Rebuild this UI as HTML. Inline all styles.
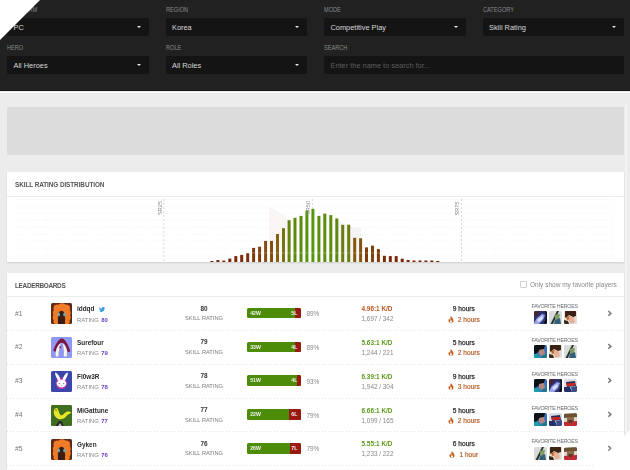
<!DOCTYPE html>
<html><head><meta charset="utf-8"><style>
*{margin:0;padding:0;box-sizing:border-box}
html,body{width:630px;height:470px;overflow:hidden;background:#ececec;font-family:"Liberation Sans",sans-serif}
.abs{position:absolute}
#hdr{position:absolute;left:0;top:0;width:630px;height:90.6px;background:#212121;border-bottom:1px solid #141414}
#hl{position:absolute;left:0;top:91.6px;width:630px;height:1.3px;background:#fbfbfb}
.lbl{position:absolute;font-size:6.6px;color:#8a8a8a;letter-spacing:0px;transform:scaleX(0.85);transform-origin:0 0;line-height:7px}
.box{position:absolute;height:17.8px;background:#141414;color:#d8d8d8;font-size:7.4px;line-height:19.6px;padding-left:6.5px;border-radius:1.5px}
.box .arr{position:absolute;right:8px;top:7.6px;width:0;height:0;border-left:2.6px solid transparent;border-right:2.6px solid transparent;border-top:2.8px solid #e8e8e8}
.box.ph{color:#5e5e5e;font-size:7.4px;line-height:19.2px}
#banner{position:absolute;left:7.2px;top:107.3px;width:617px;height:47.8px;background:#dcdcdc}
.card{position:absolute;left:7px;width:617px;background:#fff;box-shadow:0 1px 1.5px rgba(0,0,0,0.12)}
.ctitle{position:absolute;left:8px;font-size:6.4px;font-weight:bold;color:#555;letter-spacing:-0.3px}
.cdiv{position:absolute;left:0;width:617px;height:1px;background:#ededed}
.row{position:absolute;left:7px;width:617px;height:33.85px}
.row div{position:absolute;white-space:nowrap}
.rank{left:8px;top:14.5px;font-size:6.8px;color:#777;line-height:6px}
.av{left:43.6px;top:7.3px;width:21px;height:21px}
.av svg{display:block}
.name{left:70px;top:9.2px;font-size:6.4px;font-weight:bold;color:#2a2a2a;line-height:7px}
.tw{position:relative;left:4.8px;top:0.9px}
.rat{left:70px;top:21.5px;font-size:5.95px;color:#8a8a8a;line-height:5px}
.rat b{color:#6a3fc8;margin-left:0.5px}
.sr{left:167px;width:60px;text-align:center;top:9.5px;font-size:6.4px;font-weight:bold;color:#333;line-height:5px}
.srl{left:167px;width:60px;text-align:center;top:20px;font-size:5.7px;color:#7a7a7a;line-height:5px}
.wl{left:240px;top:11.8px;width:54px;height:10.7px;background:#4c8c08;border-radius:1.5px;overflow:hidden}
.wl .lpart{position:absolute;right:0;top:0;height:10.7px;background:#9a1a12}
.wl span{position:absolute;top:2.9px;font-size:5.2px;font-weight:bold;color:#f4f4f4;line-height:5px}
.ww{left:3.2px}
.ll{right:3.7px}
.pct{left:299.5px;top:15px;font-size:6.4px;color:#8a8a8a;line-height:5px}
.kd{left:354.5px;top:10px;font-size:6.4px;font-weight:bold;line-height:5px}
.kills{left:354.5px;top:20px;font-size:6.4px;color:#888;line-height:5px}
.hrs{left:426.8px;width:60px;text-align:center;top:10px;font-size:6.6px;font-weight:normal;color:#2e2e2e;-webkit-text-stroke:0.25px #2e2e2e;line-height:5px}
.hot{left:426.8px;width:60px;text-align:center;top:19.5px;font-size:6.6px;color:#b4561c;line-height:7px;font-weight:normal;-webkit-text-stroke:0.15px #b4561c}
.hot svg{vertical-align:top;margin-right:4px}
.fav{left:524.5px;top:8px;font-size:5.3px;color:#6a6a6a;line-height:5px;letter-spacing:-0.22px}
.heroes{left:527px;top:15.2px;height:13px;display:flex;gap:2px}
.heroes svg{display:block}
.chev{left:599.8px;top:13.5px}
.chev svg{display:block}
.sep{left:0;top:33.85px;width:617px;height:1px;background-image:linear-gradient(to right,#e4e4e4 50%,transparent 50%);background-size:3px 1px}
</style></head><body><div id="wrap" style="position:absolute;left:0;top:0;width:630px;height:470px;overflow:hidden;filter:blur(0.3px)">
<div id="hdr">
 <div class="lbl" style="left:7px;top:6px">PLATFORM</div>
 <div class="lbl" style="left:165.5px;top:6px">REGION</div>
 <div class="lbl" style="left:324px;top:6px">MODE</div>
 <div class="lbl" style="left:482.5px;top:6px">CATEGORY</div>
 <div class="box" style="left:7px;top:18.3px;width:141.5px">PC<div class="arr"></div></div>
 <div class="box" style="left:165.5px;top:18.3px;width:141.5px">Korea<div class="arr"></div></div>
 <div class="box" style="left:324px;top:18.3px;width:141.5px">Competitive Play<div class="arr"></div></div>
 <div class="box" style="left:482.5px;top:18.3px;width:141.5px">Skill Rating<div class="arr"></div></div>
 <div class="lbl" style="left:7px;top:44px">HERO</div>
 <div class="lbl" style="left:165.5px;top:44px">ROLE</div>
 <div class="lbl" style="left:324px;top:44px">SEARCH</div>
 <div class="box" style="left:7px;top:56.4px;width:141.5px">All Heroes<div class="arr"></div></div>
 <div class="box" style="left:165.5px;top:56.4px;width:141.5px">All Roles<div class="arr"></div></div>
 <div class="box ph" style="left:324px;top:56.4px;width:300px">Enter the name to search for...</div>
</div>
<div id="hl"></div>
<div id="banner"></div>
<div class="abs" style="left:624.8px;top:104px;width:2.5px;height:330px;background:#f3f3f3"></div>
<div class="card" style="top:172px;height:90px">
 <div class="ctitle" style="top:9px;letter-spacing:-0.08px">SKILL RATING DISTRIBUTION</div>
 <div class="cdiv" style="top:24px"></div>
</div>
<svg class="abs" style="left:0;top:0" width="630" height="470" viewBox="0 0 630 470">
<line x1="17" y1="199.5" x2="614" y2="199.5" stroke="#ececec" stroke-width="0.6" stroke-dasharray="1 1.5"/>
<line x1="17" y1="206.4" x2="614" y2="206.4" stroke="#ececec" stroke-width="0.6" stroke-dasharray="1 1.5"/>
<line x1="17" y1="213.4" x2="614" y2="213.4" stroke="#ececec" stroke-width="0.6" stroke-dasharray="1 1.5"/>
<line x1="17" y1="220.3" x2="614" y2="220.3" stroke="#ececec" stroke-width="0.6" stroke-dasharray="1 1.5"/>
<line x1="17" y1="227.3" x2="614" y2="227.3" stroke="#ececec" stroke-width="0.6" stroke-dasharray="1 1.5"/>
<line x1="17" y1="234.2" x2="614" y2="234.2" stroke="#ececec" stroke-width="0.6" stroke-dasharray="1 1.5"/>
<line x1="17" y1="241.2" x2="614" y2="241.2" stroke="#ececec" stroke-width="0.6" stroke-dasharray="1 1.5"/>
<line x1="17" y1="248.2" x2="614" y2="248.2" stroke="#ececec" stroke-width="0.6" stroke-dasharray="1 1.5"/>
<line x1="17" y1="255.1" x2="614" y2="255.1" stroke="#ececec" stroke-width="0.6" stroke-dasharray="1 1.5"/>
<line x1="17.0" y1="198" x2="17.0" y2="262" stroke="#f6f6f6" stroke-width="0.5" stroke-dasharray="1 1.5"/>
<line x1="46.8" y1="198" x2="46.8" y2="262" stroke="#f6f6f6" stroke-width="0.5" stroke-dasharray="1 1.5"/>
<line x1="76.6" y1="198" x2="76.6" y2="262" stroke="#f6f6f6" stroke-width="0.5" stroke-dasharray="1 1.5"/>
<line x1="106.4" y1="198" x2="106.4" y2="262" stroke="#f6f6f6" stroke-width="0.5" stroke-dasharray="1 1.5"/>
<line x1="136.2" y1="198" x2="136.2" y2="262" stroke="#f6f6f6" stroke-width="0.5" stroke-dasharray="1 1.5"/>
<line x1="166.0" y1="198" x2="166.0" y2="262" stroke="#f6f6f6" stroke-width="0.5" stroke-dasharray="1 1.5"/>
<line x1="195.8" y1="198" x2="195.8" y2="262" stroke="#f6f6f6" stroke-width="0.5" stroke-dasharray="1 1.5"/>
<line x1="225.6" y1="198" x2="225.6" y2="262" stroke="#f6f6f6" stroke-width="0.5" stroke-dasharray="1 1.5"/>
<line x1="255.4" y1="198" x2="255.4" y2="262" stroke="#f6f6f6" stroke-width="0.5" stroke-dasharray="1 1.5"/>
<line x1="285.2" y1="198" x2="285.2" y2="262" stroke="#f6f6f6" stroke-width="0.5" stroke-dasharray="1 1.5"/>
<line x1="315.0" y1="198" x2="315.0" y2="262" stroke="#f6f6f6" stroke-width="0.5" stroke-dasharray="1 1.5"/>
<line x1="344.8" y1="198" x2="344.8" y2="262" stroke="#f6f6f6" stroke-width="0.5" stroke-dasharray="1 1.5"/>
<line x1="374.6" y1="198" x2="374.6" y2="262" stroke="#f6f6f6" stroke-width="0.5" stroke-dasharray="1 1.5"/>
<line x1="404.4" y1="198" x2="404.4" y2="262" stroke="#f6f6f6" stroke-width="0.5" stroke-dasharray="1 1.5"/>
<line x1="434.2" y1="198" x2="434.2" y2="262" stroke="#f6f6f6" stroke-width="0.5" stroke-dasharray="1 1.5"/>
<line x1="464.0" y1="198" x2="464.0" y2="262" stroke="#f6f6f6" stroke-width="0.5" stroke-dasharray="1 1.5"/>
<line x1="493.8" y1="198" x2="493.8" y2="262" stroke="#f6f6f6" stroke-width="0.5" stroke-dasharray="1 1.5"/>
<line x1="523.6" y1="198" x2="523.6" y2="262" stroke="#f6f6f6" stroke-width="0.5" stroke-dasharray="1 1.5"/>
<line x1="553.4" y1="198" x2="553.4" y2="262" stroke="#f6f6f6" stroke-width="0.5" stroke-dasharray="1 1.5"/>
<line x1="583.2" y1="198" x2="583.2" y2="262" stroke="#f6f6f6" stroke-width="0.5" stroke-dasharray="1 1.5"/>
<line x1="613.0" y1="198" x2="613.0" y2="262" stroke="#f6f6f6" stroke-width="0.5" stroke-dasharray="1 1.5"/>
<path d="M269 206 L290 219 L290 262 L269 262 Z" fill="#f5eeec" opacity="0.55"/>
<path d="M336 220 L352 227.5 L361 227.5 L361 262 L336 262 Z" fill="#f0f0f0" opacity="0.7"/>
<line x1="163.8" y1="199" x2="163.8" y2="262" stroke="#cfcfcf" stroke-width="0.8" stroke-dasharray="2 2"/>
<line x1="312.6" y1="199" x2="312.6" y2="262" stroke="#cfcfcf" stroke-width="0.8" stroke-dasharray="2 2"/>
<line x1="461.5" y1="199" x2="461.5" y2="262" stroke="#cfcfcf" stroke-width="0.8" stroke-dasharray="2 2"/>
<rect x="210.4" y="261.0" width="3" height="1.0" fill="rgb(122, 30, 8)"/>
<rect x="216.4" y="260.1" width="3" height="1.9" fill="rgb(123, 32, 8)"/>
<rect x="222.3" y="260.6" width="3" height="1.4" fill="rgb(123, 31, 8)"/>
<rect x="228.3" y="258.6" width="3" height="3.4" fill="rgb(124, 36, 9)"/>
<rect x="234.3" y="256.1" width="3" height="5.9" fill="rgb(125, 41, 9)"/>
<rect x="240.2" y="254.9" width="3" height="7.1" fill="rgb(125, 44, 10)"/>
<rect x="246.2" y="253.1" width="3" height="8.9" fill="rgb(126, 48, 10)"/>
<rect x="252.1" y="247.9" width="3" height="14.1" fill="rgb(128, 59, 11)"/>
<rect x="258.1" y="246.7" width="3" height="15.3" fill="rgb(129, 62, 11)"/>
<rect x="264.1" y="240.9" width="3" height="21.1" fill="rgb(131, 77, 13)"/>
<rect x="270.0" y="240.9" width="3" height="21.1" fill="rgb(131, 77, 13)"/>
<rect x="276.0" y="234.0" width="3" height="28.0" fill="rgb(132, 96, 15)"/>
<rect x="282.0" y="228.2" width="3" height="33.8" fill="rgb(119, 113, 15)"/>
<rect x="287.6" y="220.2" width="3" height="41.8" fill="rgb(98, 132, 14)"/>
<rect x="293.5" y="217.8" width="3" height="44.2" fill="rgb(94, 136, 14)"/>
<rect x="299.5" y="215.9" width="3" height="46.1" fill="rgb(91, 140, 14)"/>
<rect x="305.4" y="210.6" width="3" height="51.4" fill="rgb(86, 148, 12)"/>
<rect x="311.4" y="208.9" width="3" height="53.1" fill="rgb(84, 150, 12)"/>
<rect x="317.4" y="215.9" width="3" height="46.1" fill="rgb(91, 140, 14)"/>
<rect x="323.3" y="213.6" width="3" height="48.4" fill="rgb(89, 143, 13)"/>
<rect x="329.3" y="215.1" width="3" height="46.9" fill="rgb(90, 141, 14)"/>
<rect x="335.3" y="218.4" width="3" height="43.6" fill="rgb(95, 135, 14)"/>
<rect x="341.2" y="224.8" width="3" height="37.2" fill="rgb(108, 122, 14)"/>
<rect x="347.2" y="224.7" width="3" height="37.3" fill="rgb(107, 123, 14)"/>
<rect x="353.2" y="237.8" width="3" height="24.2" fill="rgb(131, 86, 14)"/>
<rect x="359.1" y="238.3" width="3" height="23.7" fill="rgb(131, 84, 14)"/>
<rect x="365.0" y="247.4" width="3" height="14.6" fill="rgb(128, 60, 11)"/>
<rect x="371.0" y="245.6" width="3" height="16.4" fill="rgb(129, 64, 12)"/>
<rect x="376.9" y="249.1" width="3" height="12.9" fill="rgb(128, 57, 11)"/>
<rect x="382.9" y="255.8" width="3" height="6.2" fill="rgb(125, 42, 9)"/>
<rect x="388.8" y="256.1" width="3" height="5.9" fill="rgb(125, 41, 9)"/>
<rect x="394.7" y="256.1" width="3" height="5.9" fill="rgb(125, 41, 9)"/>
<rect x="400.7" y="258.7" width="3" height="3.3" fill="rgb(123, 35, 9)"/>
<rect x="406.6" y="260.0" width="3" height="2.0" fill="rgb(123, 32, 8)"/>
<rect x="412.5" y="260.5" width="3" height="1.5" fill="rgb(123, 31, 8)"/>
<rect x="418.5" y="260.5" width="3" height="1.5" fill="rgb(123, 31, 8)"/>
<rect x="424.4" y="260.5" width="3" height="1.5" fill="rgb(123, 31, 8)"/>
<rect x="430.3" y="260.5" width="3" height="1.5" fill="rgb(123, 31, 8)"/>
<rect x="436.3" y="261.0" width="3" height="1.0" fill="rgb(122, 30, 8)"/>
<line x1="205" y1="253" x2="445" y2="253" stroke="#fff" stroke-opacity="0.35" stroke-width="0.8"/>
<text transform="translate(161.5 215) rotate(-90)" font-family="Liberation Sans" font-size="5.6" fill="#888">SR25</text>
<text transform="translate(310.3 215) rotate(-90)" font-family="Liberation Sans" font-size="5.6" fill="#888">SR50</text>
<text transform="translate(459.2 215.5) rotate(-90)" font-family="Liberation Sans" font-size="5.6" fill="#888">SR75</text>
</svg>
<div class="card" style="top:272.5px;height:210px">
 <div class="ctitle" style="top:9px">LEADERBOARDS</div>
 <div class="abs" style="left:512.5px;top:8.4px;width:7px;height:7px;border:0.8px solid #cfcfcf;border-radius:1px"></div>
 <div class="abs" style="left:523px;top:9.5px;font-size:6.5px;color:#8a8a8a;line-height:6px;white-space:nowrap">Only show my favorite players</div>
 <div class="cdiv" style="top:23.5px"></div>
</div>
<div class="row" style="top:296.00px">
 <div class="rank">#1</div>
 <div class="av"><svg width="21" height="21" viewBox="0 0 21 21"><rect width="21" height="21" rx="1.5" fill="#5a2c18"/>
<g fill="#f27b28"><circle cx="6.5" cy="5.5" r="4"/><circle cx="11" cy="4" r="3.8"/><circle cx="15" cy="5.5" r="4"/><circle cx="5" cy="10" r="3.2"/><circle cx="16.5" cy="10" r="3.2"/>
<circle cx="4.6" cy="14.5" r="2.9"/><circle cx="16.8" cy="14.5" r="2.9"/><circle cx="5" cy="18.5" r="2.6"/><circle cx="16.2" cy="18.6" r="2.6"/><circle cx="8.5" cy="8" r="3"/><circle cx="12.8" cy="8" r="3"/>
<rect x="5" y="10" width="11" height="11"/></g>
<path d="M7 21 C7 17 6.6 13 7.3 10.5 C8 8.8 9.3 7.8 10.5 7.8 C11.7 7.8 13 8.8 13.7 10.5 C14.4 13 14 17 14 21 Z" fill="#3b1c10"/>
<ellipse cx="7.9" cy="11.6" rx="1.1" ry="2" fill="#5ab0c8"/><ellipse cx="13.4" cy="11.6" rx="1.1" ry="2" fill="#5ab0c8"/></svg></div>
 <div class="name">iddqd<svg class="tw" width="6.2" height="5.2" viewBox="0 0 24 20"><path d="M24 2.4c-.9.4-1.8.6-2.8.8 1-.6 1.8-1.6 2.2-2.7-1 .6-2 1-3.1 1.2C19.3.6 18 0 16.6 0c-2.7 0-4.9 2.2-4.9 4.9 0 .4 0 .8.1 1.1C7.7 5.8 4.1 3.9 1.7.9c-.4.7-.7 1.6-.7 2.5 0 1.7.9 3.2 2.2 4.1-.8 0-1.6-.2-2.2-.6v.1c0 2.4 1.7 4.4 3.9 4.8-.4.1-.8.2-1.3.2-.3 0-.6 0-.9-.1.6 2 2.4 3.4 4.6 3.4-1.7 1.3-3.8 2.1-6.1 2.1-.4 0-.8 0-1.2-.1C2.2 18.7 4.8 19.5 7.5 19.5c9.1 0 14-7.5 14-14v-.6c1-.7 1.8-1.6 2.5-2.5z" fill="#3aa0e4"/></svg></div>
 <div class="rat">RATING <b>80</b></div>
 <div class="sr">80</div>
 <div class="srl">SKILL RATING</div>
 <div class="wl"><div class="lpart" style="width:5.7px"></div><span class="ww">42W</span><span class="ll">5L</span></div>
 <div class="pct">89%</div>
 <div class="kd" style="color:#c0581e">4.96:1 K/D</div>
 <div class="kills">1,697 / 342</div>
 <div class="hrs">9 hours</div>
 <div class="hot"><svg width="6" height="7" viewBox="0 0 12 14"><path d="M6 0 C7 3 11 5 11 9 C11 12 9 14 6 14 C3 14 1 12 1 9 C1 7 2 6 3 5 C3 7 4 8 5 8 C4 5 5 2 6 0 Z" fill="#c85a1a"/><path d="M6 7 C7 9 8 10 8 11.5 C8 12.8 7 13.5 6 13.5 C5 13.5 4 12.8 4 11.5 C4 10.5 5 9 6 7Z" fill="#fff"/></svg><span>2 hours</span></div>
 <div class="fav">FAVORITE HEROES</div>
 <div class="heroes"><svg width="13" height="13" viewBox="0 0 13 13"><defs><clipPath id="hc1"><rect width="13" height="13" rx="1.6"/></clipPath></defs><g clip-path="url(#hc1)"><rect width="13" height="13" fill="#2c3272"/><path d="M0 0 H6 L3 5 L0 6Z" fill="#4a2434"/><path d="M0 12 L3 7 L8 3 L11 4 L9 9 L5 13 L0 13Z" fill="#98a4ec"/><path d="M3 9 L8 5 L9 7 L5 11Z" fill="#dfe4fb"/><path d="M11 0 H13 V13 H10 L12 6Z" fill="#10101c"/></g></svg><svg width="13" height="13" viewBox="0 0 13 13"><defs><clipPath id="hc2"><rect width="13" height="13" rx="1.6"/></clipPath></defs><g clip-path="url(#hc2)"><rect width="13" height="13" fill="#d8dbd8"/><path d="M8 0 L10 0 L4 13 L1.5 13Z" fill="#2e3630"/><path d="M6 4 L11 3 L10 8 L6 9Z" fill="#7c9c62"/><path d="M6 9 L11 7 L12 13 L5 13Z" fill="#35607c"/></g></svg><svg width="13" height="13" viewBox="0 0 13 13"><defs><clipPath id="hc3"><rect width="13" height="13" rx="1.6"/></clipPath></defs><g clip-path="url(#hc3)"><rect width="13" height="13" fill="#e6ded6"/><path d="M1 0 H12 V5 L9 6 L5 4 L2 7 L1 6Z" fill="#3a2214"/><path d="M2 6 L6 5 L7 8 L3 9Z" fill="#c46824"/><path d="M5 6 L10 6 L11 11 L7 13 L5 10Z" fill="#e6b09a"/><path d="M0 9 L4 10 L5 13 H0Z" fill="#3a2a18"/></g></svg></div>
 <div class="chev"><svg width="6" height="7" viewBox="0 0 6 7"><path d="M1.3 1 L3.9 3.4 L1.3 5.8" stroke="#7a7a7a" stroke-width="1.5" fill="none"/></svg></div>
 <div class="sep"></div>
</div>
<div class="row" style="top:329.85px">
 <div class="rank">#2</div>
 <div class="av"><svg width="21" height="21" viewBox="0 0 21 21"><rect width="21" height="21" rx="1.5" fill="#8e97f2"/>
<path d="M2.3 13.8 C3.8 8.5 7.5 1.4 10.8 1.4 C14 1.4 17.8 8.5 19.2 14.2 C18.5 15.2 17.2 15 16.6 14.4 C15.5 10 13.5 5.8 10.8 5.8 C8 5.8 6.2 10 5.2 14 C4.5 14.8 3 14.8 2.3 13.8 Z" fill="#7c1444"/>
<path d="M4.8 19.5 C4.3 14.5 5.5 9 9.8 6 C8.5 10 7.6 14.5 7.4 19.5 Z" fill="#f6f4e4"/>
<path d="M15.8 19.5 C16.5 14.5 15.5 9 11.6 6 C12.6 10 13.2 14.5 12.8 19.5 Z" fill="#f6f4e4"/>
<circle cx="9.2" cy="10.2" r="1" fill="#b82050"/></svg></div>
 <div class="name">Surefour</div>
 <div class="rat">RATING <b>79</b></div>
 <div class="sr">79</div>
 <div class="srl">SKILL RATING</div>
 <div class="wl"><div class="lpart" style="width:5.8px"></div><span class="ww">33W</span><span class="ll">4L</span></div>
 <div class="pct">89%</div>
 <div class="kd" style="color:#5c9a1c">5.63:1 K/D</div>
 <div class="kills">1,244 / 221</div>
 <div class="hrs">5 hours</div>
 <div class="hot"><svg width="6" height="7" viewBox="0 0 12 14"><path d="M6 0 C7 3 11 5 11 9 C11 12 9 14 6 14 C3 14 1 12 1 9 C1 7 2 6 3 5 C3 7 4 8 5 8 C4 5 5 2 6 0 Z" fill="#c85a1a"/><path d="M6 7 C7 9 8 10 8 11.5 C8 12.8 7 13.5 6 13.5 C5 13.5 4 12.8 4 11.5 C4 10.5 5 9 6 7Z" fill="#fff"/></svg><span>2 hours</span></div>
 <div class="fav">FAVORITE HEROES</div>
 <div class="heroes"><svg width="13" height="13" viewBox="0 0 13 13"><defs><clipPath id="hc4"><rect width="13" height="13" rx="1.6"/></clipPath></defs><g clip-path="url(#hc4)"><rect width="13" height="13" fill="#3a70b8"/><path d="M0 0 H11 L10 4 L6 5 L3 8 L0 9Z" fill="#0e1216"/><path d="M5 5 L10 4 L11 9 L7 11 L5 9Z" fill="#b6867a"/><path d="M0 9 L4 9 L7 13 H0Z" fill="#1c9cac"/><path d="M9 10 L13 9 V13 H8Z" fill="#1a7a8a"/></g></svg><svg width="13" height="13" viewBox="0 0 13 13"><defs><clipPath id="hc5"><rect width="13" height="13" rx="1.6"/></clipPath></defs><g clip-path="url(#hc5)"><rect width="13" height="13" fill="#e6ded6"/><path d="M1 0 H12 V5 L9 6 L5 4 L2 7 L1 6Z" fill="#3a2214"/><path d="M2 6 L6 5 L7 8 L3 9Z" fill="#c46824"/><path d="M5 6 L10 6 L11 11 L7 13 L5 10Z" fill="#e6b09a"/><path d="M0 9 L4 10 L5 13 H0Z" fill="#3a2a18"/></g></svg><svg width="13" height="13" viewBox="0 0 13 13"><defs><clipPath id="hc6"><rect width="13" height="13" rx="1.6"/></clipPath></defs><g clip-path="url(#hc6)"><rect width="13" height="13" fill="#d8dbd8"/><path d="M8 0 L10 0 L4 13 L1.5 13Z" fill="#2e3630"/><path d="M6 4 L11 3 L10 8 L6 9Z" fill="#7c9c62"/><path d="M6 9 L11 7 L12 13 L5 13Z" fill="#35607c"/></g></svg></div>
 <div class="chev"><svg width="6" height="7" viewBox="0 0 6 7"><path d="M1.3 1 L3.9 3.4 L1.3 5.8" stroke="#7a7a7a" stroke-width="1.5" fill="none"/></svg></div>
 <div class="sep"></div>
</div>
<div class="row" style="top:363.70px">
 <div class="rank">#3</div>
 <div class="av"><svg width="21" height="21" viewBox="0 0 21 21"><rect width="21" height="21" rx="1.5" fill="#3b46aa"/>
<ellipse cx="10.4" cy="12.3" rx="5.6" ry="5.8" fill="#c23ab6"/>
<path d="M4.2 1.6 C6.2 1.8 8.8 5.5 9.4 9 L7.4 9.8 C5.6 7.5 3.8 3.8 4.2 1.6Z" fill="#fff"/>
<path d="M16.8 1.6 C14.8 1.8 12.2 5.5 11.6 9 L13.6 9.8 C15.4 7.5 17.2 3.8 16.8 1.6Z" fill="#fff"/>
<ellipse cx="10.5" cy="12.6" rx="4.7" ry="3.9" fill="#fff"/>
<path d="M7.5 11.8 L9.3 12.4 L8 13.3Z" fill="#6a68a8"/><path d="M13.5 11.8 L11.7 12.4 L13 13.3Z" fill="#6a68a8"/>
<path d="M9.8 14.3 L11.2 14.3 L10.5 15.2Z" fill="#8a70b0"/></svg></div>
 <div class="name">Fl0w3R</div>
 <div class="rat">RATING <b>78</b></div>
 <div class="sr">78</div>
 <div class="srl">SKILL RATING</div>
 <div class="wl"><div class="lpart" style="width:3.9px"></div><span class="ww">51W</span><span class="ll">4L</span></div>
 <div class="pct">93%</div>
 <div class="kd" style="color:#5c9a1c">6.39:1 K/D</div>
 <div class="kills">1,942 / 304</div>
 <div class="hrs">9 hours</div>
 <div class="hot"><svg width="6" height="7" viewBox="0 0 12 14"><path d="M6 0 C7 3 11 5 11 9 C11 12 9 14 6 14 C3 14 1 12 1 9 C1 7 2 6 3 5 C3 7 4 8 5 8 C4 5 5 2 6 0 Z" fill="#c85a1a"/><path d="M6 7 C7 9 8 10 8 11.5 C8 12.8 7 13.5 6 13.5 C5 13.5 4 12.8 4 11.5 C4 10.5 5 9 6 7Z" fill="#fff"/></svg><span>3 hours</span></div>
 <div class="fav">FAVORITE HEROES</div>
 <div class="heroes"><svg width="13" height="13" viewBox="0 0 13 13"><defs><clipPath id="hc7"><rect width="13" height="13" rx="1.6"/></clipPath></defs><g clip-path="url(#hc7)"><rect width="13" height="13" fill="#3a70b8"/><path d="M0 0 H11 L10 4 L6 5 L3 8 L0 9Z" fill="#0e1216"/><path d="M5 5 L10 4 L11 9 L7 11 L5 9Z" fill="#b6867a"/><path d="M0 9 L4 9 L7 13 H0Z" fill="#1c9cac"/><path d="M9 10 L13 9 V13 H8Z" fill="#1a7a8a"/></g></svg><svg width="13" height="13" viewBox="0 0 13 13"><defs><clipPath id="hc8"><rect width="13" height="13" rx="1.6"/></clipPath></defs><g clip-path="url(#hc8)"><rect width="13" height="13" fill="#2c3272"/><path d="M0 0 H6 L3 5 L0 6Z" fill="#4a2434"/><path d="M0 12 L3 7 L8 3 L11 4 L9 9 L5 13 L0 13Z" fill="#98a4ec"/><path d="M3 9 L8 5 L9 7 L5 11Z" fill="#dfe4fb"/><path d="M11 0 H13 V13 H10 L12 6Z" fill="#10101c"/></g></svg><svg width="13" height="13" viewBox="0 0 13 13"><defs><clipPath id="hc9"><rect width="13" height="13" rx="1.6"/></clipPath></defs><g clip-path="url(#hc9)"><rect width="13" height="13" fill="#dcdce4"/><path d="M2 3 L11 2 L12 7 L3 8Z" fill="#2a3050"/><path d="M2 4.5 L11 4 L11 6.5 L3 7Z" fill="#d42424"/><path d="M0 8 L6 8 L8 13 H0Z" fill="#24306a"/><path d="M7 8 L13 7 V13 H8Z" fill="#3a4c8a"/></g></svg></div>
 <div class="chev"><svg width="6" height="7" viewBox="0 0 6 7"><path d="M1.3 1 L3.9 3.4 L1.3 5.8" stroke="#7a7a7a" stroke-width="1.5" fill="none"/></svg></div>
 <div class="sep"></div>
</div>
<div class="row" style="top:397.55px">
 <div class="rank">#4</div>
 <div class="av"><svg width="21" height="21" viewBox="0 0 21 21"><rect width="21" height="21" rx="1.5" fill="#3c6a1e"/>
<path d="M0 0 H21 V21 H0Z" fill="#4a7c26" opacity="0.3"/>
<path d="M2.8 6 C3 3.8 4.8 2.6 6.5 3.2 C7.5 5 7.8 8 9.5 10 C11.5 11 13 8.5 15 7 C17 6.3 19 6.5 20.3 7.5 C19 9 16.5 9.5 15 11.5 C13.5 13.5 11.5 14.5 8.5 14.2 C5.5 13.5 3.5 11 3 9 C2.6 8 2.7 7 2.8 6 Z" fill="#e8e428"/>
<path d="M3.4 9 C4.5 11.5 6.5 13 9 13.6 C6.5 14 4.2 12 3.4 9Z" fill="#f4f4c0"/>
<circle cx="5" cy="5.2" r="0.6" fill="#2a2a10"/>
<path d="M4.5 21 L8 15.8 L11 16.5 L12.5 21 Z" fill="#262626"/><path d="M7 21 L9 18 L11 21Z" fill="#b8b8b8"/></svg></div>
 <div class="name">MiGattune</div>
 <div class="rat">RATING <b>77</b></div>
 <div class="sr">77</div>
 <div class="srl">SKILL RATING</div>
 <div class="wl"><div class="lpart" style="width:11.6px"></div><span class="ww">22W</span><span class="ll">6L</span></div>
 <div class="pct">79%</div>
 <div class="kd" style="color:#5c9a1c">6.66:1 K/D</div>
 <div class="kills">1,099 / 165</div>
 <div class="hrs">5 hours</div>
 <div class="hot"><svg width="6" height="7" viewBox="0 0 12 14"><path d="M6 0 C7 3 11 5 11 9 C11 12 9 14 6 14 C3 14 1 12 1 9 C1 7 2 6 3 5 C3 7 4 8 5 8 C4 5 5 2 6 0 Z" fill="#c85a1a"/><path d="M6 7 C7 9 8 10 8 11.5 C8 12.8 7 13.5 6 13.5 C5 13.5 4 12.8 4 11.5 C4 10.5 5 9 6 7Z" fill="#fff"/></svg><span>2 hours</span></div>
 <div class="fav">FAVORITE HEROES</div>
 <div class="heroes"><svg width="13" height="13" viewBox="0 0 13 13"><defs><clipPath id="hc10"><rect width="13" height="13" rx="1.6"/></clipPath></defs><g clip-path="url(#hc10)"><rect width="13" height="13" fill="#3a70b8"/><path d="M0 0 H11 L10 4 L6 5 L3 8 L0 9Z" fill="#0e1216"/><path d="M5 5 L10 4 L11 9 L7 11 L5 9Z" fill="#b6867a"/><path d="M0 9 L4 9 L7 13 H0Z" fill="#1c9cac"/><path d="M9 10 L13 9 V13 H8Z" fill="#1a7a8a"/></g></svg><svg width="13" height="13" viewBox="0 0 13 13"><defs><clipPath id="hc11"><rect width="13" height="13" rx="1.6"/></clipPath></defs><g clip-path="url(#hc11)"><rect width="13" height="13" fill="#dcdce4"/><path d="M2 3 L11 2 L12 7 L3 8Z" fill="#2a3050"/><path d="M2 4.5 L11 4 L11 6.5 L3 7Z" fill="#d42424"/><path d="M0 8 L6 8 L8 13 H0Z" fill="#24306a"/><path d="M7 8 L13 7 V13 H8Z" fill="#3a4c8a"/></g></svg><svg width="13" height="13" viewBox="0 0 13 13"><defs><clipPath id="hc12"><rect width="13" height="13" rx="1.6"/></clipPath></defs><g clip-path="url(#hc12)"><rect width="13" height="13" fill="#dcd8d0"/><path d="M0 1 L13 0 V4 L0 5Z" fill="#6a5232"/><path d="M3 4 L10 4 L10 9 L3 9Z" fill="#8e6a4a"/><path d="M0 9 L13 8 V13 H0Z" fill="#c02a32"/><path d="M4 7 L9 7 L8 10 L5 10Z" fill="#5a3a24"/></g></svg></div>
 <div class="chev"><svg width="6" height="7" viewBox="0 0 6 7"><path d="M1.3 1 L3.9 3.4 L1.3 5.8" stroke="#7a7a7a" stroke-width="1.5" fill="none"/></svg></div>
 <div class="sep"></div>
</div>
<div class="row" style="top:431.40px">
 <div class="rank">#5</div>
 <div class="av"><svg width="21" height="21" viewBox="0 0 21 21"><rect width="21" height="21" rx="1.5" fill="#5a2c18"/>
<g fill="#f27b28"><circle cx="6.5" cy="5.5" r="4"/><circle cx="11" cy="4" r="3.8"/><circle cx="15" cy="5.5" r="4"/><circle cx="5" cy="10" r="3.2"/><circle cx="16.5" cy="10" r="3.2"/>
<circle cx="4.6" cy="14.5" r="2.9"/><circle cx="16.8" cy="14.5" r="2.9"/><circle cx="5" cy="18.5" r="2.6"/><circle cx="16.2" cy="18.6" r="2.6"/><circle cx="8.5" cy="8" r="3"/><circle cx="12.8" cy="8" r="3"/>
<rect x="5" y="10" width="11" height="11"/></g>
<path d="M7 21 C7 17 6.6 13 7.3 10.5 C8 8.8 9.3 7.8 10.5 7.8 C11.7 7.8 13 8.8 13.7 10.5 C14.4 13 14 17 14 21 Z" fill="#3b1c10"/>
<ellipse cx="7.9" cy="11.6" rx="1.1" ry="2" fill="#5ab0c8"/><ellipse cx="13.4" cy="11.6" rx="1.1" ry="2" fill="#5ab0c8"/></svg></div>
 <div class="name">Gyken</div>
 <div class="rat">RATING <b>76</b></div>
 <div class="sr">76</div>
 <div class="srl">SKILL RATING</div>
 <div class="wl"><div class="lpart" style="width:11.5px"></div><span class="ww">26W</span><span class="ll">7L</span></div>
 <div class="pct">79%</div>
 <div class="kd" style="color:#5c9a1c">5.55:1 K/D</div>
 <div class="kills">1,233 / 222</div>
 <div class="hrs">6 hours</div>
 <div class="hot"><svg width="6" height="7" viewBox="0 0 12 14"><path d="M6 0 C7 3 11 5 11 9 C11 12 9 14 6 14 C3 14 1 12 1 9 C1 7 2 6 3 5 C3 7 4 8 5 8 C4 5 5 2 6 0 Z" fill="#c85a1a"/><path d="M6 7 C7 9 8 10 8 11.5 C8 12.8 7 13.5 6 13.5 C5 13.5 4 12.8 4 11.5 C4 10.5 5 9 6 7Z" fill="#fff"/></svg><span>1 hour</span></div>
 <div class="fav">FAVORITE HEROES</div>
 <div class="heroes"><svg width="13" height="13" viewBox="0 0 13 13"><defs><clipPath id="hc13"><rect width="13" height="13" rx="1.6"/></clipPath></defs><g clip-path="url(#hc13)"><rect width="13" height="13" fill="#d8dbd8"/><path d="M8 0 L10 0 L4 13 L1.5 13Z" fill="#2e3630"/><path d="M6 4 L11 3 L10 8 L6 9Z" fill="#7c9c62"/><path d="M6 9 L11 7 L12 13 L5 13Z" fill="#35607c"/></g></svg><svg width="13" height="13" viewBox="0 0 13 13"><defs><clipPath id="hc14"><rect width="13" height="13" rx="1.6"/></clipPath></defs><g clip-path="url(#hc14)"><rect width="13" height="13" fill="#e6ded6"/><path d="M1 0 H12 V5 L9 6 L5 4 L2 7 L1 6Z" fill="#3a2214"/><path d="M2 6 L6 5 L7 8 L3 9Z" fill="#c46824"/><path d="M5 6 L10 6 L11 11 L7 13 L5 10Z" fill="#e6b09a"/><path d="M0 9 L4 10 L5 13 H0Z" fill="#3a2a18"/></g></svg><svg width="13" height="13" viewBox="0 0 13 13"><defs><clipPath id="hc15"><rect width="13" height="13" rx="1.6"/></clipPath></defs><g clip-path="url(#hc15)"><rect width="13" height="13" fill="#dcd8d0"/><path d="M0 1 L13 0 V4 L0 5Z" fill="#6a5232"/><path d="M3 4 L10 4 L10 9 L3 9Z" fill="#8e6a4a"/><path d="M0 9 L13 8 V13 H0Z" fill="#c02a32"/><path d="M4 7 L9 7 L8 10 L5 10Z" fill="#5a3a24"/></g></svg></div>
 <div class="chev"><svg width="6" height="7" viewBox="0 0 6 7"><path d="M1.3 1 L3.9 3.4 L1.3 5.8" stroke="#7a7a7a" stroke-width="1.5" fill="none"/></svg></div>
 <div class="sep"></div>
</div>
<svg class="abs" style="left:0;top:0" width="630" height="470"><path d="M0 0 L40 0 L0 40 Z" fill="#fff"/><path d="M630 430 L630 470 L590 470 Z" fill="#fff"/></svg>
</div></body></html>
